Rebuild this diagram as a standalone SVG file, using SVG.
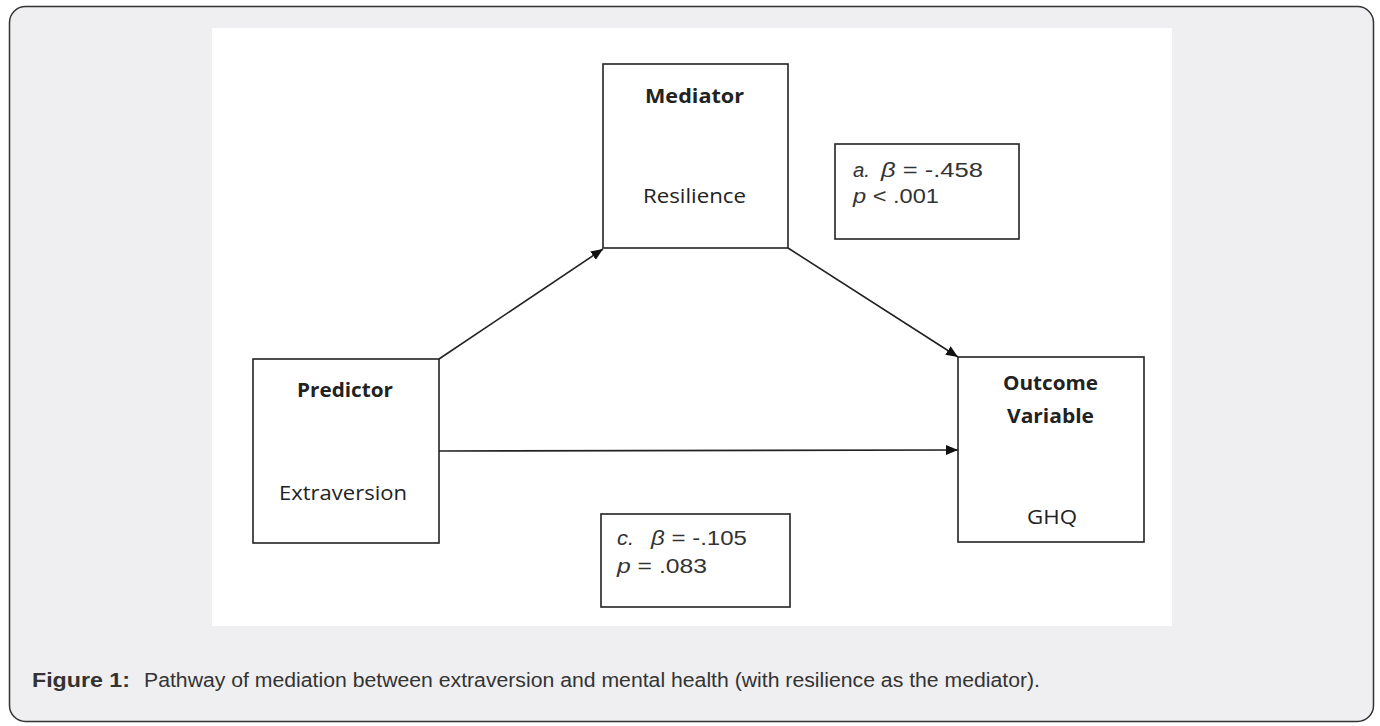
<svg xmlns="http://www.w3.org/2000/svg" width="1380" height="726" viewBox="0 0 1380 726">
<style>
.box{fill:#fff;stroke:#222;stroke-width:1.6}
.lbl{font-family:"Open Sans","DejaVu Sans",sans-serif;font-size:19.5px;fill:#222;text-anchor:middle}
.b{font-weight:bold}
.st{font-family:"Liberation Sans",Arial,sans-serif;font-size:19.5px;fill:#333}
.it{font-style:italic}
.conn{stroke:#222;stroke-width:1.6;fill:none}
.cap{font-family:"Liberation Sans",Arial,sans-serif;font-size:20px;fill:#333}
</style>
<defs>
<marker id="ah" viewBox="0 0 12 10" refX="12" refY="5" markerWidth="12" markerHeight="10" markerUnits="userSpaceOnUse" orient="auto"><path d="M0,0 L12,5 L0,10 z" fill="#111"/></marker>
</defs>
<rect x="9.5" y="6.5" width="1364" height="715" rx="16" fill="#efeff1" stroke="#333" stroke-width="1.5"/>
<rect x="212" y="28" width="960" height="598" fill="#fff"/>
<g id="connectors">
<line class="conn" x1="439" y1="359" x2="603" y2="249" marker-end="url(#ah)"/>
<line class="conn" x1="788" y1="248" x2="958" y2="357" marker-end="url(#ah)"/>
<line class="conn" x1="439" y1="451" x2="958" y2="450" marker-end="url(#ah)"/>
</g>
<g id="mediator">
<rect class="box" x="603" y="64" width="185" height="184"/>
<text class="lbl b" x="694.5" y="103" textLength="99" lengthAdjust="spacingAndGlyphs">Mediator</text>
<text class="lbl" x="694.5" y="203" textLength="103" lengthAdjust="spacingAndGlyphs">Resilience</text>
</g>
<g id="path-a">
<rect class="box" x="835" y="144" width="184" height="95"/>
<text class="st it" x="853" y="177" textLength="17" lengthAdjust="spacingAndGlyphs">a.</text>
<text class="st" x="881" y="177" textLength="102" lengthAdjust="spacingAndGlyphs"><tspan class="it">β</tspan> = -.458</text>
<text class="st" x="853" y="203" textLength="86" lengthAdjust="spacingAndGlyphs"><tspan class="it">p</tspan> &lt; .001</text>
</g>
<g id="predictor">
<rect class="box" x="253" y="359" width="186" height="184"/>
<text class="lbl b" x="345" y="397" textLength="96" lengthAdjust="spacingAndGlyphs">Predictor</text>
<text class="lbl" x="343" y="500" textLength="128" lengthAdjust="spacingAndGlyphs">Extraversion</text>
</g>
<g id="outcome">
<rect class="box" x="958" y="357" width="186" height="185"/>
<text class="lbl b" x="1050.5" y="390" textLength="95" lengthAdjust="spacingAndGlyphs">Outcome</text>
<text class="lbl b" x="1050.5" y="423" textLength="87" lengthAdjust="spacingAndGlyphs">Variable</text>
<text class="lbl" x="1052" y="524" textLength="50" lengthAdjust="spacingAndGlyphs">GHQ</text>
</g>
<g id="path-c">
<rect class="box" x="601" y="514" width="189" height="93"/>
<text class="st it" x="617" y="545" textLength="17" lengthAdjust="spacingAndGlyphs">c.</text>
<text class="st" x="651" y="545" textLength="96" lengthAdjust="spacingAndGlyphs"><tspan class="it">β</tspan> = -.105</text>
<text class="st" x="617" y="573" textLength="90" lengthAdjust="spacingAndGlyphs"><tspan class="it">p</tspan> = .083</text>
</g>
<text class="cap b" x="32" y="687" textLength="98" lengthAdjust="spacingAndGlyphs">Figure 1:</text>
<text class="cap" x="144" y="687" textLength="896" lengthAdjust="spacingAndGlyphs">Pathway of mediation between extraversion and mental health (with resilience as the mediator).</text>
</svg>
